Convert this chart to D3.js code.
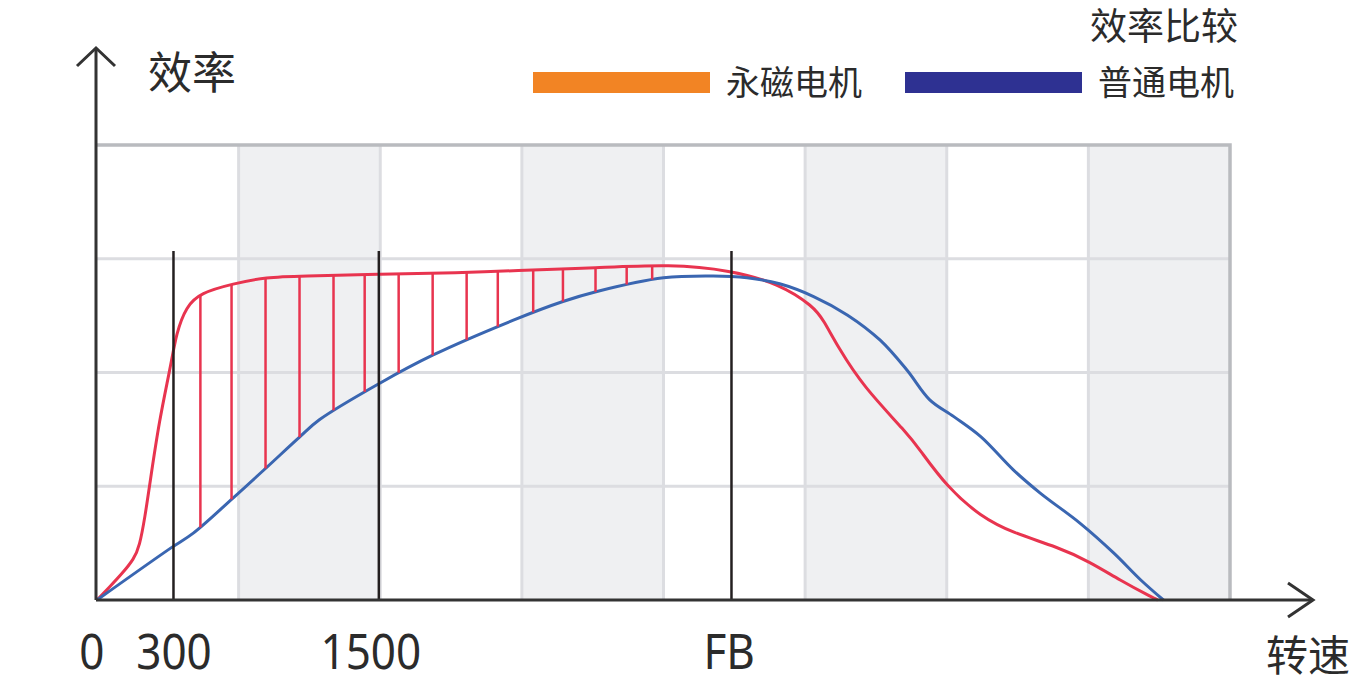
<!DOCTYPE html>
<html>
<head>
<meta charset="utf-8">
<script src="https://cdn.jsdelivr.net/npm/d3@7"></script>
<style>
  html, body { margin: 0; padding: 0; background: #fff; }
  svg { display: block; }
  .cjk { font-family: "Noto Sans CJK SC", "Noto Sans", sans-serif; fill: #2b2b2b; }
  .num { font-family: "Noto Sans", "DejaVu Sans Condensed", sans-serif; fill: #2b2b2b; }
</style>
</head>
<body>
<script>
// speed in grid-column units (0..8), efficiency in % of grid height
const pmSpeed = [0, 0.09, 0.18, 0.26, 0.30, 0.34, 0.37, 0.44, 0.52, 0.56, 0.63, 0.73, 0.96, 1.20, 1.43, 2.00, 2.56, 2.94, 3.53, 4.05, 4.47, 4.82, 5.06, 5.13, 5.23, 5.41, 5.72, 5.81, 6.00, 6.24, 6.47, 6.78, 7.01, 7.22, 7.46, 7.49];
const pmEff   = [0, 2.9, 5.9, 9.0, 11.7, 18.5, 24.9, 39.6, 51.3, 58.7, 64.5, 67.5, 69.5, 71.0, 71.2, 71.6, 71.9, 72.4, 73.0, 73.8, 72.5, 69.5, 64.5, 61.5, 55.7, 46.9, 36.7, 33.0, 24.9, 18.3, 14.7, 11.7, 8.4, 4.4, 0.4, 0];

const stdSpeed = [0, 0.52, 0.68, 0.96, 1.20, 1.43, 1.57, 2.00, 2.37, 2.94, 3.29, 3.53, 4.00, 4.35, 4.59, 4.82, 5.06, 5.30, 5.53, 5.72, 5.88, 6.05, 6.24, 6.47, 6.66, 6.94, 7.18, 7.37, 7.53];
const stdEff   = [0, 11.4, 14.7, 22.4, 29.2, 35.8, 39.6, 47.7, 53.8, 61.5, 65.6, 67.8, 70.8, 71.2, 70.8, 69.5, 66.7, 62.6, 57.1, 50.5, 44.0, 40.3, 35.9, 28.6, 23.5, 16.9, 10.3, 4.4, 0];

const hatchAt = [0.73, 0.95, 1.19, 1.43, 1.67, 1.89, 2.13, 2.37, 2.61, 2.83, 3.08, 3.29, 3.52, 3.74, 3.92];

const markerAt = [0.54, 1.99, 4.48];
const markerTop = 76.7;

const tickLabels = ["0", "300", "1500", "FB"];
const tickAt = [-0.04, 0.54, 1.93, 4.46];

const seriesNames = ["永磁电机", "普通电机"];
const legendColors = ["#f28424", "#2e3192"];
const lineColors = ["#e8344f", "#3a66b1"];

const W = 1371, H = 684;
const x = d3.scaleLinear().domain([0, 8]).range([97, 1230]);
const y = d3.scaleLinear().domain([0, 100]).range([600, 145]);

const svg = d3.select("body").append("svg").attr("width", W).attr("height", H);

// shaded columns
svg.append("g").selectAll("rect")
  .data(d3.range(1, 8, 2))
  .enter().append("rect")
  .attr("x", d => x(d)).attr("y", y(100))
  .attr("width", x(1) - x(0)).attr("height", y(0) - y(100))
  .attr("fill", "#eff0f2");

// grid lines
const grid = svg.append("g").attr("stroke", "#dcdde1").attr("stroke-width", 3);
grid.selectAll(".v").data(d3.range(1, 8)).enter().append("line")
  .attr("x1", d => x(d)).attr("x2", d => x(d))
  .attr("y1", y(100)).attr("y2", y(0));
grid.selectAll(".h").data([25, 50, 75]).enter().append("line")
  .attr("x1", x(0)).attr("x2", x(8))
  .attr("y1", d => y(d)).attr("y2", d => y(d));
// outer border (top and right)
svg.append("path")
  .attr("d", `M${x(0)},${y(100)}H${x(8)}V${y(0)}`)
  .attr("fill", "none").attr("stroke", "#b9bbbf").attr("stroke-width", 3.5);

// curves
const pmLine = d3.line().x(d => x(d[0])).y(d => y(d[1])).curve(d3.curveBasis);
const stdLine = d3.line().x(d => x(d[0])).y(d => y(d[1])).curve(d3.curveCatmullRom.alpha(0.5));
const pmData = pmSpeed.map((s, i) => [s, pmEff[i]]);
const stdData = stdSpeed.map((s, i) => [s, stdEff[i]]);

const pmPath = svg.append("path").datum(pmData)
  .attr("d", pmLine).attr("fill", "none")
  .attr("stroke", lineColors[0]).attr("stroke-width", 3);
const stdPath = svg.append("path").datum(stdData)
  .attr("d", stdLine).attr("fill", "none")
  .attr("stroke", lineColors[1]).attr("stroke-width", 3);

// find y on a path at a given pixel x
function yAt(path, px) {
  const node = path.node();
  let lo = 0, hi = node.getTotalLength();
  for (let k = 0; k < 40; k++) {
    const mid = (lo + hi) / 2;
    if (node.getPointAtLength(mid).x < px) lo = mid; else hi = mid;
  }
  return node.getPointAtLength((lo + hi) / 2).y;
}

svg.append("g").selectAll("line")
  .data(hatchAt)
  .enter().append("line")
  .attr("x1", d => x(d)).attr("x2", d => x(d))
  .attr("y1", d => yAt(pmPath, x(d)))
  .attr("y2", d => yAt(stdPath, x(d)))
  .attr("stroke", lineColors[0]).attr("stroke-width", 2.5);

// marker lines
svg.append("g").selectAll("line")
  .data(markerAt)
  .enter().append("line")
  .attr("x1", d => x(d)).attr("x2", d => x(d))
  .attr("y1", y(markerTop)).attr("y2", y(0))
  .attr("stroke", "#231f20").attr("stroke-width", 2.5);

// axes with open arrows
const axis = svg.append("g").attr("stroke", "#333").attr("stroke-width", 3).attr("fill", "none");
axis.append("path").attr("d", `M96,600V50`);
axis.append("path").attr("d", `M77,66L96,48L115,66`);
axis.append("path").attr("d", `M96,600H1312`);
axis.append("path").attr("d", `M1288,583L1313,600L1288,617`);

// x tick labels (narrow digits)
const xAxis = d3.axisBottom(x)
  .tickValues(tickAt)
  .tickFormat((d, i) => tickLabels[i])
  .tickSize(0).tickPadding(0);
const xg = svg.append("g").attr("transform", "translate(0,669)").call(xAxis);
xg.select(".domain").remove();
xg.selectAll("text")
  .attr("class", "num").attr("dy", 0)
  .attr("font-size", 50).attr("fill", "#2b2b2b")
  .attr("transform", "scale(0.88,1)");

// axis titles
svg.append("text").attr("class", "cjk").attr("x", 148).attr("y", 89)
  .attr("font-size", 44).text("效率");
svg.append("text").attr("class", "cjk").attr("x", 1350).attr("y", 671)
  .attr("font-size", 42).attr("text-anchor", "end").text("转速");

// title
svg.append("text").attr("class", "cjk").attr("x", 1238).attr("y", 40)
  .attr("font-size", 37).attr("text-anchor", "end").text("效率比较");

// legend
const legendX = [533, 905];
const lg = svg.append("g").selectAll("g")
  .data(seriesNames)
  .enter().append("g")
  .attr("transform", (d, i) => `translate(${legendX[i]},72)`);
lg.append("rect").attr("width", 177).attr("height", 21)
  .attr("fill", (d, i) => legendColors[i]);
lg.append("text").attr("class", "cjk")
  .attr("x", 193).attr("y", 23)
  .attr("font-size", 34).text(d => d);
</script>
</body>
</html>
